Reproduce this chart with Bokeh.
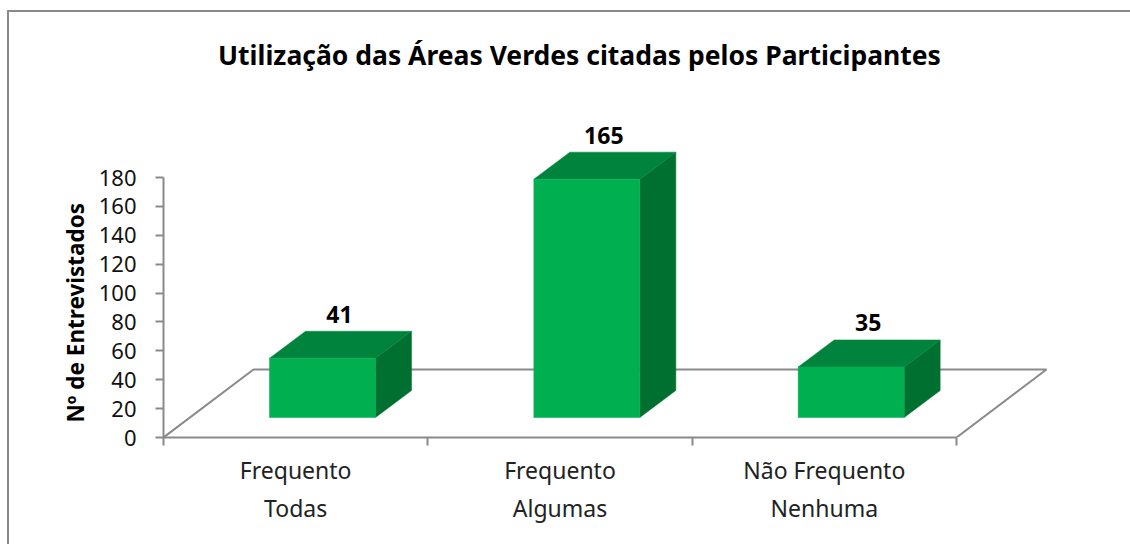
from bokeh.plotting import figure
from bokeh.models import FixedTicker, Range1d, Label, Title, InlineStyleSheet
from bokeh.embed import file_html
from bokeh.resources import INLINE
from bokeh.core.properties import value

title = "Utilização das Áreas Verdes citadas pelos Participantes"
categories = ["Frequento\nTodas", "Frequento\nAlgumas", "Não Frequento\nNenhuma"]
values = [41, 165, 35]
y_ticks = [0, 20, 40, 60, 80, 100, 120, 140, 160, 180]
y_label = "Nº de Entrevistados"

FONT = "Noto Sans"
GRAY = "#8a8a8a"
W, H = 1130, 544
FL, FT = 163, 2      # frame left / top inside the figure
PX_X = 264.33        # pixels per category
PX_Y = 260 / 180     # pixels per unit
FR_R = W - 1
FR_B = 437

x_range = Range1d(0, (FR_R - FL) / PX_X)
y_range = Range1d(0, (FR_B - FT) / PX_Y)

p = figure(width=W, height=H, x_range=x_range, y_range=y_range,
           output_backend="svg", toolbar_location=None,
           min_border_left=FL, min_border_right=W - FR_R,
           min_border_top=FT, min_border_bottom=H - FR_B,
           background_fill_color="white", outline_line_color=None)
p.grid.visible = False

# chart border: left and top rules of the frame that the reference is cropped from
p.stylesheets = [InlineStyleSheet(css=f""":host {{ position: relative; }}
:host::after {{ content: ""; position: absolute; left: 7px; top: 10px; right: 0; bottom: 0;
  border-left: 2px solid {GRAY}; border-top: 2px solid {GRAY}; pointer-events: none; }}""")]

# axes
p.yaxis.ticker = FixedTicker(ticks=y_ticks)
p.yaxis.bounds = (0, 180)
p.yaxis.axis_line_color = GRAY
p.yaxis.axis_line_width = 2
p.yaxis.major_tick_line_color = GRAY
p.yaxis.major_tick_line_width = 2
p.yaxis.major_tick_out = 8
p.yaxis.major_tick_in = 0
p.yaxis.minor_tick_out = 0
p.yaxis.minor_tick_in = 0
p.yaxis.major_label_text_font = FONT
p.yaxis.major_label_text_font_size = "22px"
p.yaxis.major_label_text_color = "#111111"
p.yaxis.major_label_standoff = 19

p.add_layout(Title(text=y_label, align="left", offset=15, standoff=9, text_font=FONT, text_font_style="bold",
                   text_font_size="22.5px", text_color="black"), "left")

centres = [i + 0.5 for i in range(len(categories))]
p.xaxis.ticker = FixedTicker(ticks=centres, minor_ticks=list(range(len(categories) + 1)))
p.xaxis.major_label_overrides = dict(zip(centres, categories))
p.xaxis.bounds = (0, 3)
p.xaxis.axis_line_color = GRAY
p.xaxis.axis_line_width = 2
p.xaxis.major_tick_out = 0
p.xaxis.major_tick_in = 0
p.xaxis.minor_tick_line_color = GRAY
p.xaxis.minor_tick_line_width = 2
p.xaxis.minor_tick_out = 8
p.xaxis.minor_tick_in = 0
p.xaxis.major_label_text_font = FONT
p.xaxis.major_label_text_font_size = "23px"
p.xaxis.major_label_text_color = "#222222"
p.xaxis.major_label_standoff = 8

# floor of the 3-D box
fdx, fdy = 90 / PX_X, 68 / PX_Y
p.line([0, fdx, 3 + fdx, 3], [0, fdy, fdy, 0], line_color=GRAY, line_width=2)

# 3-D bars: a front face plus depth offsets, projected through the data scales
bw = 106 / PX_X
x0, y0 = 106 / PX_X, 20 / PX_Y      # front-left-bottom offset of a bar
ddx, ddy = 36 / PX_X, 27 / PX_Y     # bar depth on screen
front, top, side = "#00B050", "#00843D", "#007030"
for i, v in enumerate(values):
    l = i + x0
    r = l + bw
    b = y0
    t = y0 + v
    p.patch([r, r + ddx, r + ddx, r], [b, b + ddy, t + ddy, t], color=side, line_width=0.5)
    p.patch([l, r, r + ddx, l + ddx], [t, t, t + ddy, t + ddy], color=top, line_width=0.5)
    p.patch([l, r, r, l], [b, b, t, t], color=front, line_width=0.5)
    p.text([l + bw / 2 + ddx / 2 - 1 / PX_X], [t + ddy + 6], text=[str(v)],
           text_font=value(FONT), text_font_style="bold", text_font_size="23px",
           text_align="center", text_baseline="bottom", text_color="black")

# screen units of annotations count from the frame's lower-left corner
p.add_layout(Label(x=579 - FL, y=FR_B - 54, x_units="screen", y_units="screen", text=title,
                   text_font=FONT, text_font_style="bold", text_font_size="26.5px",
                   text_align="center", text_baseline="middle", text_color="black"))

open("out.html", "w").write(file_html(p, INLINE))
